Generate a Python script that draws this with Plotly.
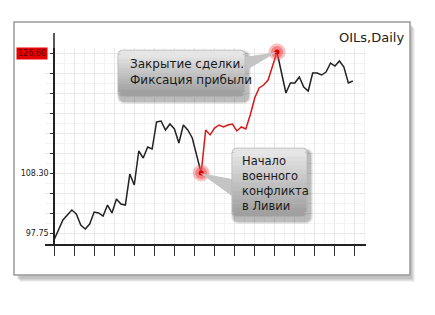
import plotly.graph_objects as go

# ---------------- data ----------------
days_a = list(range(0, 32)) + [33]
price_a = [96.52, 98.45, 100.04, 100.92, 101.79, 101.09, 99.16, 98.45, 99.33, 101.44,
           101.27, 100.74, 102.67, 101.27, 103.73, 102.85, 102.67, 108.12, 106.19, 112.17,
           110.94, 112.87, 112.52, 117.27, 117.44, 115.86, 116.92, 116.04, 113.58, 116.74,
           115.86, 114.46, 108.30]
days_b = [33] + list(range(34, 49)) + [50]
price_b = [108.30, 115.86, 115.00, 116.21, 116.74, 116.39, 116.74, 116.92, 115.69, 116.39,
           116.04, 118.50, 121.49, 123.25, 123.77, 124.65, 129.58]
days_c = [50] + list(range(52, 68))
price_c = [129.58, 122.37, 124.13, 124.13, 125.18, 123.42, 122.72, 125.88, 125.88, 125.53,
           126.06, 127.64, 127.11, 127.99, 126.94, 124.13, 124.48]
event_days = [33, 50]
event_prices = [108.30, 129.58]

ytick_vals = [97.75 + k * 3.51667 for k in range(10)]
ytick_text = ["97.75", "", "", "108.30", "", "", "", "", "", ""]
top_label = "126.60"
title = "OILs,Daily"
note_open = "Начало<br>военного<br>конфликта<br>в Ливии"
note_close = "Закрытие сделки.<br>Фиксация прибыли"

# ---------------- layout helpers ----------------
W, H = 435, 315
L, R, T, B = 45, 366, 48, 244


def px(x):
    return (x - L) / (R - L)


def py(y):
    return (B - y) / (B - T)


shapes = []

# frame shadow
for i, a in enumerate([0.05, 0.06, 0.07, 0.08]):
    o = 4 - i
    shapes.append(dict(type="rect", xref="paper", yref="paper", layer="below",
                       x0=px(14 + o + 2), x1=px(410 + o + 1), y0=py(275 + o + 3), y1=py(22 + o + 2),
                       fillcolor=f"rgba(0,0,0,{a})", line=dict(width=0)))
# frame
shapes.append(dict(type="rect", xref="paper", yref="paper", layer="below",
                   x0=px(14), x1=px(410), y0=py(275), y1=py(22),
                   fillcolor="white", line=dict(color="#9a9a9a", width=1.5)))
# y-axis extension above plotting area
shapes.append(dict(type="line", xref="paper", yref="paper", x0=px(54), x1=px(54),
                   y0=py(48), y1=py(33), line=dict(color="#222", width=1.5)))


def rounded_path(x0, y0, x1, y1, r):
    X0, X1 = px(x0), px(x1)
    return (f"M {px(x0 + r)},{py(y0)} L {px(x1 - r)},{py(y0)} "
            f"Q {X1},{py(y0)} {X1},{py(y0 + r)} L {X1},{py(y1 - r)} "
            f"Q {X1},{py(y1)} {px(x1 - r)},{py(y1)} L {px(x0 + r)},{py(y1)} "
            f"Q {X0},{py(y1)} {X0},{py(y1 - r)} L {X0},{py(y0 + r)} "
            f"Q {X0},{py(y0)} {px(x0 + r)},{py(y0)} Z")


def mix(c1, c2, t):
    return "#%02x%02x%02x" % tuple(int(round(a + (b - a) * t)) for a, b in zip(c1, c2))


def callout(x0, y0, x1, y1, tip, base1, base2):
    r = 5
    # shadow
    for i, a in enumerate([0.07, 0.09, 0.12]):
        o = 3 - i
        shapes.append(dict(type="path", xref="paper", yref="paper",
                           path=rounded_path(x0 + 2 - o, y0 + 3 - o, x1 + 3 + o, y1 + 4 + o, r + o),
                           fillcolor=f"rgba(0,0,0,{a})", line=dict(width=0)))
    # pointer wedge
    shapes.append(dict(type="path", xref="paper", yref="paper",
                       path=f"M {px(base1[0])},{py(base1[1])} L {px(tip[0])},{py(tip[1])} "
                            f"L {px(base2[0])},{py(base2[1])} Z",
                       fillcolor="#c4c4c4", line=dict(width=0)))
    top, bot = (230, 230, 230), (160, 160, 160)
    shapes.append(dict(type="path", xref="paper", yref="paper",
                       path=rounded_path(x0, y0, x1, y1, r),
                       fillcolor=mix(top, bot, 0.5), line=dict(color="#b0b0b0", width=0.6)))
    n = 14
    hh = (y1 - y0 - 2 * r) / n
    for i in range(n):
        ya = y0 + r + i * hh
        shapes.append(dict(type="rect", xref="paper", yref="paper",
                           x0=px(x0 + 0.4), x1=px(x1 - 0.4), y0=py(ya + hh + 0.3), y1=py(ya),
                           fillcolor=mix(top, bot, (i + 0.5) / n), line=dict(width=0)))
    shapes.append(dict(type="path", xref="paper", yref="paper",
                       path=rounded_path(x0 + 0.5, y0 + 0.5, x1 - 0.5, y0 + r + 0.5, r),
                       fillcolor=mix(top, bot, 0.0), line=dict(width=0)))
    shapes.append(dict(type="path", xref="paper", yref="paper",
                       path=rounded_path(x0 + 0.5, y1 - r - 0.5, x1 - 0.5, y1 - 0.5, r),
                       fillcolor=mix(top, bot, 1.0), line=dict(width=0)))


callout(118, 50, 245, 97, (277, 52), (245, 57), (245, 71))
callout(232, 148, 307, 217, (200, 173), (232, 179), (232, 196))

# ---------------- figure ----------------
fig = go.Figure()
fig.add_trace(go.Scatter(x=days_a, y=price_a, mode="lines",
                         line=dict(color="#222222", width=1.5), hoverinfo="skip"))
fig.add_trace(go.Scatter(x=days_c, y=price_c, mode="lines",
                         line=dict(color="#222222", width=1.5), hoverinfo="skip"))
fig.add_trace(go.Scatter(x=days_b, y=price_b, mode="lines",
                         line=dict(color="#d81818", width=1.5), hoverinfo="skip"))
fig.add_trace(go.Scatter(x=event_days, y=event_prices, mode="markers",
                         marker=dict(size=17, color="rgba(240,80,80,0.35)", line=dict(width=0)),
                         hoverinfo="skip", cliponaxis=False))
fig.add_trace(go.Scatter(x=event_days, y=event_prices, mode="markers",
                         marker=dict(size=12, color="rgba(240,80,80,0.55)", line=dict(width=0)),
                         hoverinfo="skip", cliponaxis=False))
fig.add_trace(go.Scatter(x=event_days, y=event_prices, mode="markers",
                         marker=dict(size=5, color="#e00000", line=dict(width=0)),
                         hoverinfo="skip", cliponaxis=False))

px_per_day = 4.46
x_lo = (L - 54) / px_per_day
x_hi = (R - 54) / px_per_day
y_per_px = 3.51667 / 20
y_lo = 97.75 - (B - 233) * y_per_px
y_hi = 97.75 + (233 - T) * y_per_px

fig.update_layout(
    width=W, height=H,
    margin=dict(l=L, r=W - R, t=T, b=H - B, pad=0),
    paper_bgcolor="white", plot_bgcolor="rgba(0,0,0,0)",
    showlegend=False,
    shapes=shapes,
    font=dict(family="DejaVu Sans", color="#222"),
    xaxis=dict(range=[x_lo, x_hi], showline=True, linecolor="#222", linewidth=1.5,
               ticks="outside", ticklen=10, tickwidth=1, tickcolor="#333",
               tick0=0, dtick=20 / px_per_day, showticklabels=False,
               showgrid=True, gridcolor="#e8e8e8", gridwidth=1, zeroline=False,
               minor=dict(dtick=10 / px_per_day, tick0=0, showgrid=True,
                          gridcolor="#f3f3f3", ticks="")),
    yaxis=dict(range=[y_lo, y_hi], anchor="free", position=px(54), side="left",
               showline=True, linecolor="#222", linewidth=1.5,
               ticks="outside", ticklen=3, tickwidth=1, tickcolor="#333",
               tickvals=ytick_vals, ticktext=ytick_text,
               tickfont=dict(size=8, color="#222", family="DejaVu Sans"),
               showgrid=True, gridcolor="#e8e8e8", zeroline=False,
               minor=dict(tickvals=[v + 3.51667 / 2 for v in ytick_vals] + [97.75 - 3.51667 / 2],
                          showgrid=True, gridcolor="#f3f3f3", ticks="")),
    annotations=[
        dict(xref="paper", yref="y", x=px(48), y=ytick_vals[-1], text=top_label,
             showarrow=False, xanchor="right", yanchor="middle",
             font=dict(size=8, color="#5a0000", family="DejaVu Sans"),
             bgcolor="#e80000", borderpad=1),
        dict(xref="paper", yref="paper", x=px(406), y=py(37), text=title, showarrow=False,
             xanchor="right", yanchor="middle",
             font=dict(size=13, color="#222", family="DejaVu Sans")),
        dict(xref="paper", yref="paper", x=px(128), y=py(72), text=note_close, showarrow=False,
             xanchor="left", yanchor="middle", align="left",
             font=dict(size=12, color="#1a1a1a", family="DejaVu Sans")),
        dict(xref="paper", yref="paper", x=px(240), y=py(183), text=note_open, showarrow=False,
             xanchor="left", yanchor="middle", align="left",
             font=dict(size=11.5, color="#1a1a1a", family="DejaVu Sans")),
    ],
)

fig.write_html("out.html")
